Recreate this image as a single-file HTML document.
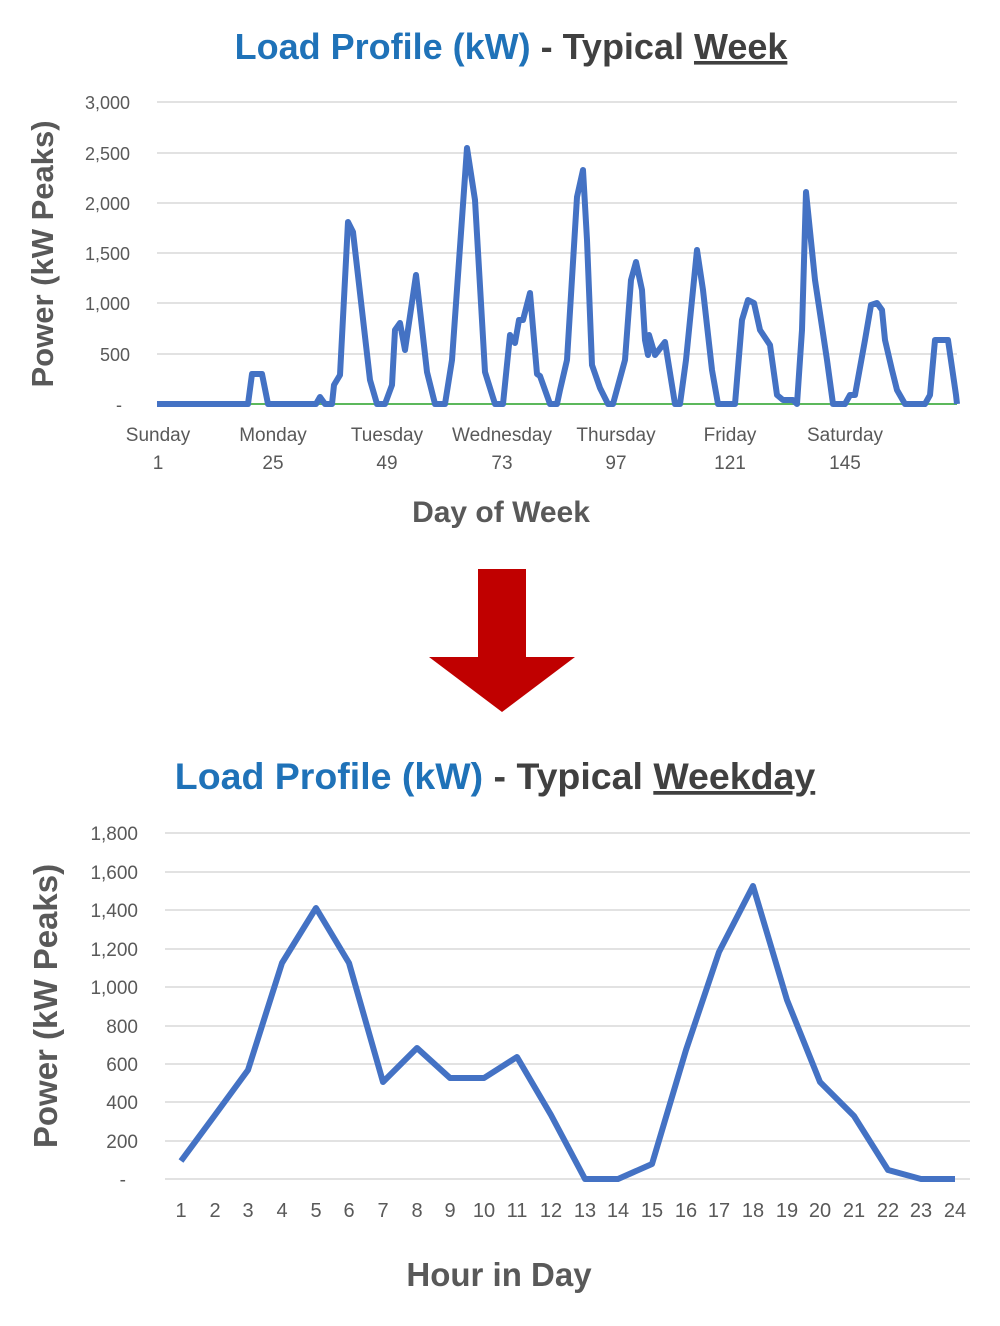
<!DOCTYPE html>
<html><head><meta charset="utf-8"><style>
html,body{margin:0;padding:0;background:#fff}
svg{display:block}
text{font-family:"Liberation Sans",sans-serif}
</style></head><body>
<svg width="1000" height="1326" viewBox="0 0 1000 1326" xmlns="http://www.w3.org/2000/svg">
<!-- Top chart -->
<text x="511" y="59" text-anchor="middle" font-size="36" font-weight="bold"><tspan fill="#1f72b8">Load Profile (kW)</tspan><tspan fill="#404040"> - Typical </tspan><tspan fill="#404040" text-decoration="underline">Week</tspan></text>
<g stroke="#d9d9d9" stroke-width="1.5">
<line x1="157" x2="957" y1="102" y2="102"/><line x1="157" x2="957" y1="153" y2="153"/><line x1="157" x2="957" y1="203" y2="203"/><line x1="157" x2="957" y1="253" y2="253"/><line x1="157" x2="957" y1="303" y2="303"/><line x1="157" x2="957" y1="354" y2="354"/>
</g>
<line x1="157" x2="957" y1="404" y2="404" stroke="#5cb85c" stroke-width="2"/>
<g font-size="18" fill="#595959" text-anchor="end">
<text x="130" y="109">3,000</text><text x="130" y="160">2,500</text><text x="130" y="210">2,000</text><text x="130" y="260">1,500</text><text x="130" y="310">1,000</text><text x="130" y="361">500</text><text x="122" y="411">-</text>
</g>
<g font-size="19" fill="#595959" text-anchor="middle">
<text x="158" y="441">Sunday</text><text x="158" y="469">1</text>
<text x="273" y="441">Monday</text><text x="273" y="469">25</text>
<text x="387" y="441">Tuesday</text><text x="387" y="469">49</text>
<text x="502" y="441">Wednesday</text><text x="502" y="469">73</text>
<text x="616" y="441">Thursday</text><text x="616" y="469">97</text>
<text x="730" y="441">Friday</text><text x="730" y="469">121</text>
<text x="845" y="441">Saturday</text><text x="845" y="469">145</text>
</g>
<text x="501" y="522" text-anchor="middle" font-size="30" font-weight="bold" fill="#595959">Day of Week</text>
<text transform="translate(53,254) rotate(-90)" text-anchor="middle" font-size="31" font-weight="bold" fill="#595959">Power (kW Peaks)</text>
<polyline fill="none" stroke="#4472c4" stroke-width="6" stroke-linejoin="round" points="157,404 248,404 252,374 262,374 268,404 316,404 320,397 325,404 332,404 334,385 340,375 348,222 353,232 370,380 377,404 385,404 392,385 395,330 400,323 405,350 416,275 427,372 435,404 445,404 452,360 467,148 475,200 485,372 495,404 503,404 510,335 515,343 519,320 523,320 530,293 537,374 540,376 550,404 557,404 560,390 567,360 577,197 583,170 587,240 592,365 600,388 608,404 613,404 625,360 631,280 636,262 642,290 645,340 648,355 649,335 655,355 665,342 675,404 680,404 686,360 697,250 703,290 712,370 718,404 735,404 742,320 748,300 754,303 760,330 770,345 777,395 783,400 793,400 797,404 802,330 806,192 815,280 827,360 833,404 845,404 850,395 855,395 865,340 871,305 877,303 882,310 885,340 892,370 897,390 905,404 925,404 930,395 935,340 948,340 956,395 957,404"/>
<!-- Arrow -->
<polygon fill="#c00000" points="478,569 526,569 526,657 575,657 502,712 429,657 478,657"/>
<!-- Bottom chart -->
<text x="495" y="789" text-anchor="middle" font-size="37.5" font-weight="bold"><tspan fill="#1f72b8">Load Profile (kW)</tspan><tspan fill="#404040"> - Typical </tspan><tspan fill="#404040" text-decoration="underline">Weekday</tspan></text>
<g stroke="#d9d9d9" stroke-width="1.5">
<line x1="165" x2="970" y1="833" y2="833"/><line x1="165" x2="970" y1="872" y2="872"/><line x1="165" x2="970" y1="910" y2="910"/><line x1="165" x2="970" y1="949" y2="949"/><line x1="165" x2="970" y1="987" y2="987"/><line x1="165" x2="970" y1="1026" y2="1026"/><line x1="165" x2="970" y1="1064" y2="1064"/><line x1="165" x2="970" y1="1102" y2="1102"/><line x1="165" x2="970" y1="1141" y2="1141"/><line x1="165" x2="970" y1="1179" y2="1179"/>
</g>
<g font-size="19" fill="#595959" text-anchor="end">
<text x="138" y="840">1,800</text><text x="138" y="879">1,600</text><text x="138" y="917">1,400</text><text x="138" y="956">1,200</text><text x="138" y="994">1,000</text><text x="138" y="1033">800</text><text x="138" y="1071">600</text><text x="138" y="1109">400</text><text x="138" y="1148">200</text><text x="126" y="1186">-</text>
</g>
<g font-size="20" fill="#595959" text-anchor="middle">
<text x="181" y="1217">1</text><text x="215" y="1217">2</text><text x="248" y="1217">3</text><text x="282" y="1217">4</text><text x="316" y="1217">5</text><text x="349" y="1217">6</text><text x="383" y="1217">7</text><text x="417" y="1217">8</text><text x="450" y="1217">9</text><text x="484" y="1217">10</text><text x="517" y="1217">11</text><text x="551" y="1217">12</text><text x="585" y="1217">13</text><text x="618" y="1217">14</text><text x="652" y="1217">15</text><text x="686" y="1217">16</text><text x="719" y="1217">17</text><text x="753" y="1217">18</text><text x="787" y="1217">19</text><text x="820" y="1217">20</text><text x="854" y="1217">21</text><text x="888" y="1217">22</text><text x="921" y="1217">23</text><text x="955" y="1217">24</text>
</g>
<text x="499" y="1286" text-anchor="middle" font-size="33" font-weight="bold" fill="#595959">Hour in Day</text>
<text transform="translate(57,1006) rotate(-90)" text-anchor="middle" font-size="33" font-weight="bold" fill="#595959">Power (kW Peaks)</text>
<polyline fill="none" stroke="#4472c4" stroke-width="6" stroke-linejoin="round" points="181,1161 215,1115 248,1070 282,963 316,908 349,963 383,1082 417,1048 450,1078 484,1078 517,1057 551,1115 585,1179 618,1179 652,1164 686,1050 719,952 753,886 787,1000 820,1082 854,1116 888,1170 921,1179 955,1179"/>
</svg>
</body></html>
